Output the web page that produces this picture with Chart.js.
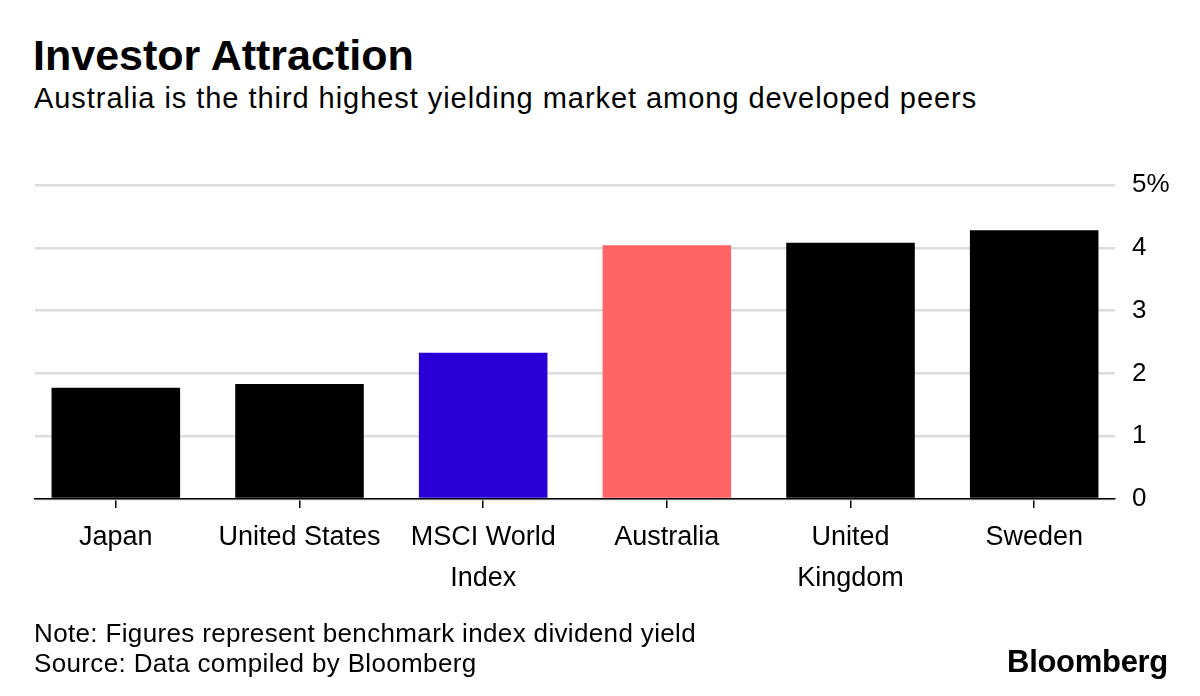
<!DOCTYPE html>
<html>
<head>
<meta charset="utf-8">
<script src="https://cdn.jsdelivr.net/npm/chart.js@4"></script>
<style>
  html, body { margin: 0; padding: 0; background: #fff; }
  body { width: 1200px; height: 696px; position: relative; overflow: hidden; font-family: "Liberation Sans", Arial, sans-serif; color: #000; }
  #wrap { position: absolute; left: 0; top: 0; width: 1200px; height: 696px; }
  .txt { position: absolute; white-space: nowrap; }
  #title { left: 33px; top: 31px; font-size: 43px; font-weight: bold; }
  #sub { left: 34px; top: 82px; font-size: 29px; letter-spacing: 0.95px; }
  #note { left: 34px; top: 618px; font-size: 26px; letter-spacing: 0.35px; }
  #src { left: 34px; top: 648px; font-size: 26px; letter-spacing: 0.35px; }
  #logo { right: 32px; top: 644px; font-size: 31px; font-weight: bold; letter-spacing: -0.3px; }
</style>
</head>
<body>
<div class="txt" id="title">Investor Attraction</div>
<div class="txt" id="sub">Australia is the third highest yielding market among developed peers</div>
<div id="wrap"><canvas id="myChart" width="1200" height="696"></canvas></div>
<div class="txt" id="note">Note: Figures represent benchmark index dividend yield</div>
<div class="txt" id="src">Source: Data compiled by Bloomberg</div>
<div class="txt" id="logo">Bloomberg</div>

<script>
// donnees
const markets = ['Japan', 'United States', 'MSCI World Index', 'Australia', 'United Kingdom', 'Sweden']
const marketLines = [['Japan'], ['United States'], ['MSCI World', 'Index'], ['Australia'], ['United', 'Kingdom'], ['Sweden']]
const yields = [1.77, 1.83, 2.33, 4.04, 4.08, 4.28]
const barColors = ['#000000', '#000000', '#2800d7', '#ff6464', '#000000', '#000000']
const yTicks = [0, 1, 2, 3, 4, 5]

Chart.defaults.font.family = '"Liberation Sans", Arial, sans-serif'
Chart.defaults.color = '#000'

const points = yields.map((v, i) => ({ x: i, y: v }))

var data = {
  datasets: [{
    label: 'Dividend yield',
    data: points,
    backgroundColor: barColors,
    borderWidth: 0,
    barPercentage: 0.7,
    categoryPercentage: 1
  }]
}

var config = {
  type: 'bar',
  data: data,
  options: {
    responsive: false,
    animation: false,
    events: [],
    layout: { padding: { left: 35, right: 0, top: 185, bottom: 0 } },
    plugins: {
      legend: { display: false },
      tooltip: { enabled: false }
    },
    scales: {
      x: {
        type: 'linear',
        min: -0.44,
        max: 5.44,
        offset: false,
        afterFit: (scale) => { scale.height = 197 },
        border: { display: true, color: '#000', width: 1.5 },
        grid: { offset: false, drawOnChartArea: false, drawTicks: true, tickLength: 9, color: '#000', lineWidth: 1.5 },
        ticks: {
          stepSize: 1,
          includeBounds: false,
          autoSkip: false,
          maxRotation: 0,
          padding: 9,
          font: { size: 27, lineHeight: 1.52 },
          callback: (v) => Number.isInteger(v) && marketLines[v] ? marketLines[v] : ''
        }
      },
      y: {
        position: 'right',
        min: 0,
        max: 5,
        afterFit: (scale) => { scale.width = 85 },
        border: { display: false },
        grid: { color: '#dcdcdc', lineWidth: 2.5, drawTicks: false },
        ticks: {
          stepSize: 1,
          padding: 17,
          font: { size: 26 },
          callback: (v) => yTicks.includes(v) ? (v === 5 ? v + '%' : '' + v) : ''
        }
      }
    }
  }
}

const ctx = document.getElementById('myChart')
var barChart = new Chart(ctx, config)
</script>
</body>
</html>
